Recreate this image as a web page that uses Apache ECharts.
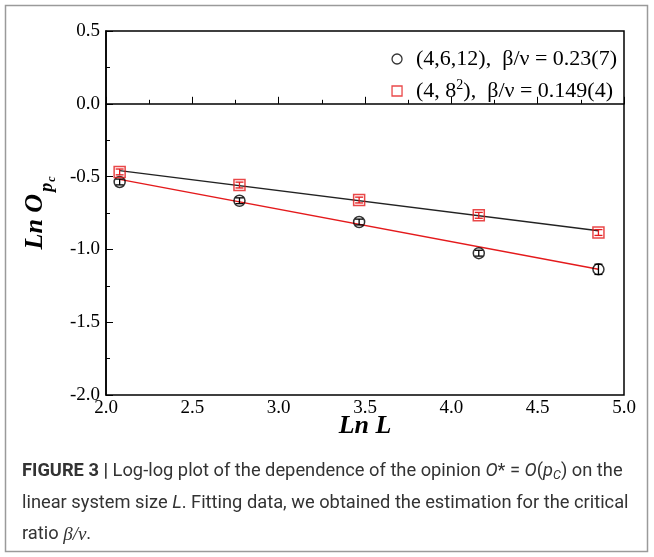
<!DOCTYPE html>
<html>
<head>
<meta charset="utf-8">
<script src="https://cdn.jsdelivr.net/npm/echarts@6/dist/echarts.min.js"></script>
<style>
  html, body { margin: 0; padding: 0; background: #fff; }
  #chart { width: 654px; height: 557px; }
</style>
</head>
<body>
<div id="chart"></div>
<script>
  // Ln L for L = 8, 16, 32, 64, 128
  var lnL = [2.079, 2.773, 3.466, 4.159, 4.852];
  // (4,6,12) black circles
  var circleY = [-0.537, -0.666, -0.812, -1.026, -1.137];
  var circleErr = [0.02, 0.02, 0.02, 0.02, 0.035];
  // (4,8^2) red squares
  var squareY = [-0.468, -0.558, -0.661, -0.766, -0.884];
  var squareErr = [0.02, 0.02, 0.02, 0.02, 0.02];
  // fitted lines (end points)
  var fitBlackX = [2.079, 4.852];
  var fitBlackY = [-0.459, -0.872];
  var fitRedX = [2.079, 4.852];
  var fitRedY = [-0.519, -1.137];

  var nameCircle = '(4,6,12),  β/ν = 0.23(7)';
  var nameSquare = '(4, 8²),  β/ν = 0.149(4)';

  function pairs(xs, ys, es) {
    var out = [];
    for (var i = 0; i < xs.length; i++) {
      out.push(es ? [xs[i], ys[i], es[i]] : [xs[i], ys[i]]);
    }
    return out;
  }

  function errorBars(params, api) {
    var x = api.value(0), y = api.value(1), e = api.value(2);
    var hi = api.coord([x, y + e]);
    var lo = api.coord([x, y - e]);
    var w = 4;
    var st = { stroke: api.visual('color'), lineWidth: 1.3 };
    return {
      type: 'group',
      children: [
        { type: 'line', shape: { x1: hi[0], y1: hi[1], x2: lo[0], y2: lo[1] }, style: st },
        { type: 'line', shape: { x1: hi[0] - w, y1: hi[1], x2: hi[0] + w, y2: hi[1] }, style: st },
        { type: 'line', shape: { x1: lo[0] - w, y1: lo[1], x2: lo[0] + w, y2: lo[1] }, style: st }
      ]
    };
  }

  var serif = '"Liberation Serif", "DejaVu Serif", serif';
  var sans = 'Roboto, "Liberation Sans", sans-serif';

  var myChart = echarts.init(document.getElementById('chart'));
  myChart.setOption({
    animation: false,
    backgroundColor: '#fff',
    grid: {
      left: 106, top: 31, width: 518, height: 364,
      show: true, borderColor: '#000', borderWidth: 1.5
    },
    legend: {
      orient: 'vertical',
      right: 32,
      top: 43,
      itemGap: 8,
      itemWidth: 10,
      itemHeight: 10,
      data: [
        { name: nameCircle, icon: 'circle', itemStyle: { color: 'transparent', borderColor: '#000', borderWidth: 1.3 } },
        { name: nameSquare, icon: 'rect', itemStyle: { color: 'transparent', borderColor: '#e41a1c', borderWidth: 1.3 } }
      ],
      formatter: function (n) {
        if (n === nameSquare) return '(4, 8{sup|2}),  β/ν = 0.149(4)';
        return n;
      },
      textStyle: {
        fontFamily: serif, fontSize: 22, color: '#000', padding: [0, 0, 0, 9],
        rich: {
          sup: { fontFamily: serif, fontSize: 14, color: '#000', verticalAlign: 'top', padding: [0, 0, 12, 0] }
        }
      }
    },
    xAxis: {
      type: 'value',
      min: 2, max: 5, interval: 0.5,
      name: 'Ln L',
      nameLocation: 'middle',
      nameGap: 18,
      nameMoveOverlap: false,
      nameTextStyle: { fontFamily: serif, fontSize: 26, fontWeight: 'bold', fontStyle: 'italic', color: '#000' },
      axisLine: { show: true, lineStyle: { color: '#000', width: 1.5 } },
      axisTick: { show: true, inside: true, length: 7, lineStyle: { color: '#000', width: 1 } },
      minorTick: { show: true, splitNumber: 2, length: 4, lineStyle: { color: '#000', width: 1 } },
      splitLine: { show: false },
      axisLabel: {
        margin: 4, fontFamily: serif, fontSize: 19, color: '#000',
        formatter: function (v) { return v.toFixed(1); }
      }
    },
    yAxis: {
      type: 'value',
      min: -2, max: 0.5, interval: 0.5,
      name: '{a|Ln O}{b|p}{c|c}',
      nameLocation: 'middle',
      nameGap: 48,
      nameRotate: 90,
      nameTextStyle: {
        rich: {
          a: { fontFamily: serif, fontSize: 26, fontWeight: 'bold', fontStyle: 'italic', color: '#000', verticalAlign: 'bottom', padding: [0, 0, 10, 0] },
          b: { fontFamily: serif, fontSize: 18, fontWeight: 'bold', fontStyle: 'italic', color: '#000', verticalAlign: 'bottom', padding: [0, 0, 2, 2] },
          c: { fontFamily: serif, fontSize: 12, fontWeight: 'bold', fontStyle: 'italic', color: '#000', verticalAlign: 'bottom', padding: [0, 0, 0, 1] }
        }
      },
      axisLine: { show: true, lineStyle: { color: '#000', width: 1.5 } },
      axisTick: { show: true, inside: true, length: 7, lineStyle: { color: '#000', width: 1 } },
      minorTick: { show: true, splitNumber: 2, length: 4, lineStyle: { color: '#000', width: 1 } },
      splitLine: { show: false },
      axisLabel: {
        margin: 6, fontFamily: serif, fontSize: 19, color: '#000',
        formatter: function (v) { return v.toFixed(1); }
      }
    },
    series: [
      {
        name: 'fitBlack', type: 'line', data: pairs(fitBlackX, fitBlackY),
        showSymbol: false, lineStyle: { color: '#222', width: 1.5 }, z: 2
      },
      {
        name: 'fitRed', type: 'line', data: pairs(fitRedX, fitRedY),
        showSymbol: false, lineStyle: { color: '#e41a1c', width: 1.5 }, z: 2
      },
      {
        name: 'errCircle', type: 'custom', renderItem: errorBars,
        data: pairs(lnL, circleY, circleErr), itemStyle: { color: '#000' }, z: 3
      },
      {
        name: 'errSquare', type: 'custom', renderItem: errorBars,
        data: pairs(lnL, squareY, squareErr), itemStyle: { color: '#e41a1c' }, z: 3
      },
      {
        name: nameCircle, type: 'scatter', data: pairs(lnL, circleY),
        symbol: 'circle', symbolSize: 11,
        itemStyle: { color: 'transparent', borderColor: '#000', borderWidth: 1.5 }, z: 4
      },
      {
        name: nameSquare, type: 'scatter', data: pairs(lnL, squareY),
        symbol: 'rect', symbolSize: 11,
        itemStyle: { color: 'transparent', borderColor: '#e41a1c', borderWidth: 1.5 }, z: 4
      }
    ],
    graphic: [
      {
        type: 'rect', silent: true, z: -1,
        shape: { x: 5.5, y: 5.5, width: 642, height: 546 },
        style: { fill: 'none', stroke: '#9a9a9a', lineWidth: 1.5 }
      },
      {
        type: 'text', left: 22, top: 462,
        style: {
          text: '{b|FIGURE 3 |} Log-log plot of the dependence of the opinion {i|O}* = {i|O}({i|p}{s|C}) on the',
          fontFamily: sans, fontSize: 18.3, fill: '#333',
          rich: {
            b: { fontFamily: sans, fontSize: 18.3, fontWeight: 'bold', fill: '#333' },
            i: { fontFamily: sans, fontSize: 18.3, fontStyle: 'italic', fill: '#333' },
            s: { fontFamily: sans, fontSize: 12.5, fontStyle: 'italic', fill: '#333', verticalAlign: 'bottom', padding: [0, 0, -2, 0] }
          }
        }
      },
      {
        type: 'text', left: 22, top: 494,
        style: {
          text: 'linear system size {i|L}. Fitting data, we obtained the estimation for the critical',
          fontFamily: sans, fontSize: 18.3, fill: '#333',
          rich: { i: { fontFamily: sans, fontSize: 18.3, fontStyle: 'italic', fill: '#333' } }
        }
      },
      {
        type: 'text', left: 22, top: 525,
        style: {
          text: 'ratio {m|β/ν}.',
          fontFamily: sans, fontSize: 18.3, fill: '#333',
          rich: { m: { fontFamily: serif, fontSize: 19, fontStyle: 'italic', fill: '#333' } }
        }
      }
    ]
  });
</script>
</body>
</html>
